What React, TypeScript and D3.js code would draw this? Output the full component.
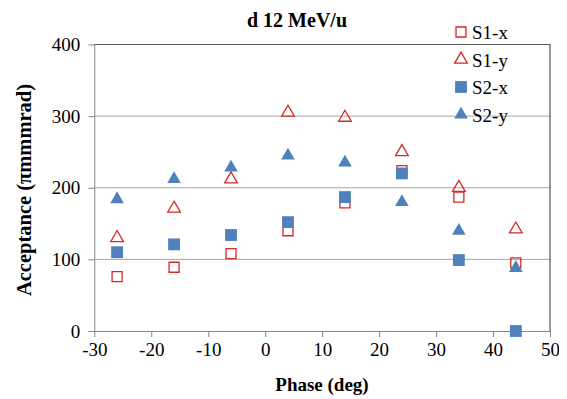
import { useEffect, useRef } from 'react'
import * as d3 from 'd3'

const phases = [-26, -16, -6, 4, 14, 24, 34, 44]
const s1x = [76, 89, 108, 140, 179, 224, 187, 95]
const s1y = [130, 171, 212, 305, 298, 250, 200, 142]
const s2x = [110, 121, 134, 152, 187, 220, 99, 0]
const s2y = [184, 212, 228, 245, 235, 180, 140, 88]
const xTicks = [-30, -20, -10, 0, 10, 20, 30, 40, 50]
const yTicks = [0, 100, 200, 300, 400]

const RED = '#D42A2A'
const BLUE = '#4F81BD'

type Shape = 'square' | 'triangle'
const series: { name: string; values: number[]; shape: Shape; filled: boolean }[] = [
  { name: 'S1-x', values: s1x, shape: 'square', filled: false },
  { name: 'S1-y', values: s1y, shape: 'triangle', filled: false },
  { name: 'S2-x', values: s2x, shape: 'square', filled: true },
  { name: 'S2-y', values: s2y, shape: 'triangle', filled: true },
]

export default function App() {
  const svgRef = useRef<SVGSVGElement>(null)

  useEffect(() => {
    if (!svgRef.current) return
    const svg = d3.select(svgRef.current)
    svg.selectAll('*').remove()

    const width = 567
    const height = 399
    const margin = { top: 44.5, right: 17, bottom: 68, left: 94.3 }
    const innerWidth = width - margin.left - margin.right
    const innerHeight = height - margin.top - margin.bottom
    const font = '"Liberation Serif", "Times New Roman", serif'

    svg.attr('width', width).attr('height', height).attr('viewBox', `0 0 ${width} ${height}`)
      .attr('font-family', font)
    svg.append('rect').attr('width', width).attr('height', height).attr('fill', '#fff')

    const g = svg.append('g').attr('transform', `translate(${margin.left},${margin.top})`)

    const x = d3.scaleLinear().domain([-30, 50]).range([0, innerWidth])
    const y = d3.scaleLinear().domain([0, 400]).range([innerHeight, 0])

    // gridlines
    g.append('g')
      .selectAll('line')
      .data(yTicks.filter(t => t > 0 && t < 400))
      .join('line')
      .attr('x1', 0)
      .attr('x2', innerWidth)
      .attr('y1', d => y(d))
      .attr('y2', d => y(d))
      .attr('stroke', '#A6A6A6')
      .attr('stroke-width', 1)

    // top and right border
    g.append('path')
      .attr('d', `M0,${y(400)}H${innerWidth}V${innerHeight}`)
      .attr('fill', 'none')
      .attr('stroke', '#595959')
      .attr('stroke-width', 1.2)

    // X axis
    const xAxis = g.append('g')
      .attr('transform', `translate(0,${innerHeight})`)
      .call(d3.axisBottom(x).tickValues(xTicks).tickFormat(d => String(d)).tickSize(6).tickPadding(6).tickSizeOuter(0))
      .attr('font-family', font)
      .attr('font-size', 19)
    xAxis.select('.domain').attr('stroke', '#868686')
    xAxis.selectAll('line').attr('stroke', '#868686')
    xAxis.selectAll('text').attr('fill', '#000')

    // Y axis
    const yAxis = g.append('g')
      .call(d3.axisLeft(y).tickValues(yTicks).tickFormat(d => String(d)).tickSize(6).tickPadding(8).tickSizeOuter(0))
      .attr('font-family', font)
      .attr('font-size', 19)
    yAxis.select('.domain').attr('stroke', '#868686')
    yAxis.selectAll('line').attr('stroke', '#868686')
    yAxis.selectAll('text').attr('fill', '#000')

    const sym = (shape: Shape, filled: boolean) =>
      d3.symbol()
        .type(shape === 'square' ? d3.symbolSquare : d3.symbolTriangle)
        .size(shape === 'square' ? (filled ? 140 : 100) : filled ? 80 : 70)()

    // markers
    series.forEach(s => {
      const color = s.filled ? BLUE : RED
      g.append('g')
        .selectAll('path')
        .data(s.values)
        .join('path')
        .attr('d', sym(s.shape, s.filled))
        .attr('transform', (d, i) => `translate(${x(phases[i])},${y(d)})`)
        .attr('fill', s.filled ? color : 'none')
        .attr('stroke', color)
        .attr('stroke-width', s.filled ? 0 : 1.3)
    })

    // legend
    const legend = svg.append('g').attr('transform', 'translate(461,32)')
    series.forEach((s, i) => {
      const color = s.filled ? BLUE : RED
      const row = legend.append('g').attr('transform', `translate(0,${i * 27.5})`)
      row.append('path')
        .attr('d', sym(s.shape, s.filled))
        .attr('fill', s.filled ? color : 'none')
        .attr('stroke', color)
        .attr('stroke-width', s.filled ? 0 : 1.3)
      row.append('text')
        .attr('x', 11)
        .attr('y', 7)
        .attr('font-size', 19)
        .attr('fill', '#000')
        .text(s.name)
    })

    // title
    svg.append('text')
      .attr('x', 297)
      .attr('y', 27)
      .attr('text-anchor', 'middle')
      .attr('font-weight', 'bold')
      .attr('font-size', 20)
      .text('d 12 MeV/u')

    // axis titles
    svg.append('text')
      .attr('x', 322)
      .attr('y', 391)
      .attr('text-anchor', 'middle')
      .attr('font-weight', 'bold')
      .attr('font-size', 19)
      .text('Phase (deg)')

    svg.append('text')
      .attr('transform', 'translate(31,190) rotate(-90)')
      .attr('text-anchor', 'middle')
      .attr('font-weight', 'bold')
      .attr('font-size', 20.5)
      .text('Acceptance (πmmmrad)')
  }, [])

  return <svg ref={svgRef} style={{ display: 'block', margin: '-8px -8px 0 -8px' }} />
}
